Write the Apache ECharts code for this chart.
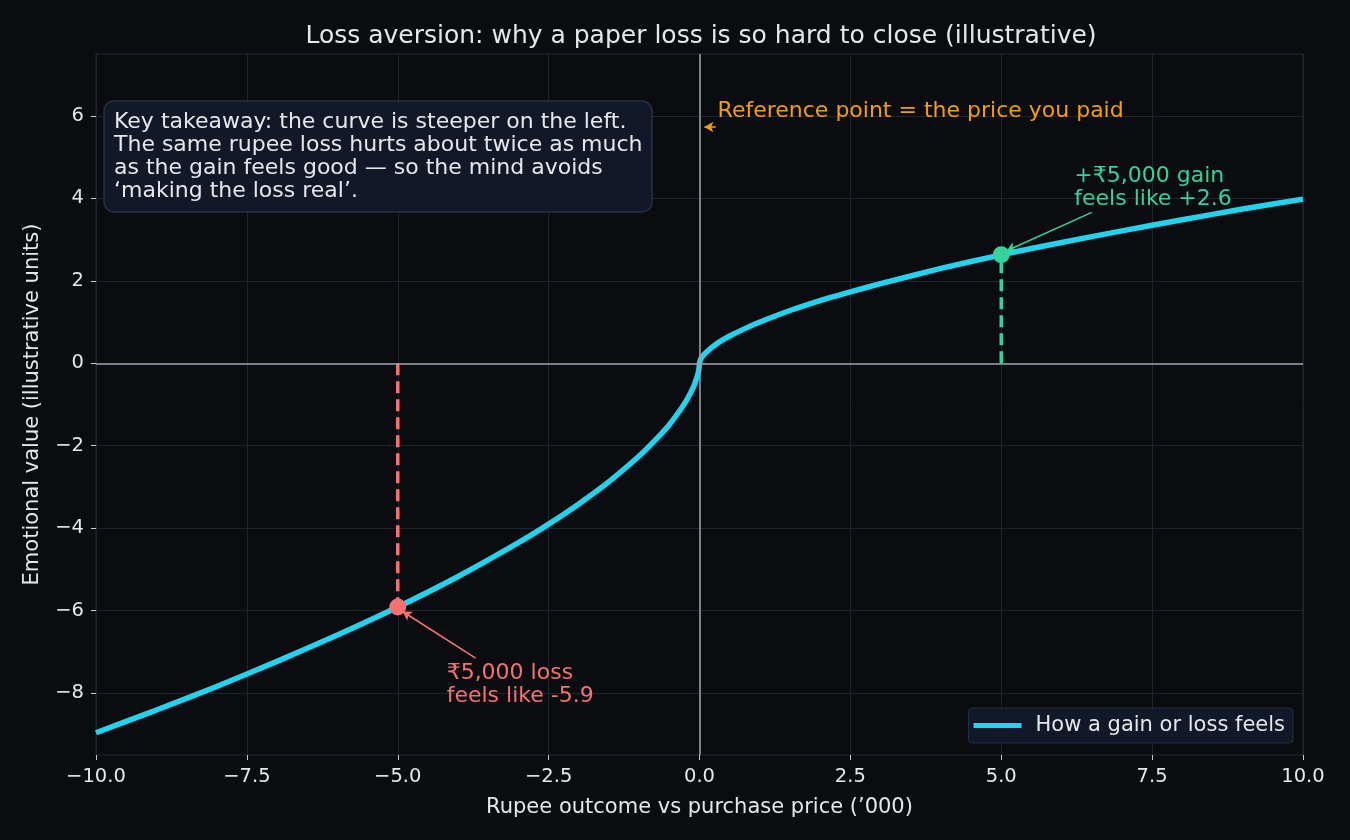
<!DOCTYPE html>
<html lang="en">
<head>
<meta charset="UTF-8">
<title>Loss aversion</title>
<style>
  html, body { margin: 0; padding: 0; background: #0b0c10; }
  #chart { width: 1350px; height: 840px; }
</style>
</head>
<body>
<div id="chart"></div>
<script src="https://cdn.jsdelivr.net/npm/echarts@6/dist/echarts.min.js"></script>
<script>
// outcome in rupees ('000) and how it feels
const outcome = [-10, -9, -8, -7, -6, -5, -4, -3, -2.5, -2, -1.5, -1, -0.75, -0.5, -0.3, -0.2, -0.1, -0.05, -0.02, -0.01, 0,
                 0.01, 0.02, 0.05, 0.1, 0.2, 0.3, 0.5, 0.75, 1, 1.5, 2, 2.5, 3, 4, 5, 6, 7, 8, 9, 10];
const feeling = [-8.96, -8.41, -7.84, -7.23, -6.59, -5.91, -5.17, -4.35, -3.90, -3.41, -2.87, -2.25, -1.89, -1.49, -1.09, -0.86, -0.57, -0.37, -0.22, -0.14, 0,
                 0.06, 0.10, 0.17, 0.25, 0.38, 0.49, 0.66, 0.84, 1.00, 1.28, 1.52, 1.73, 1.93, 2.30, 2.63, 2.93, 3.21, 3.48, 3.74, 3.98];

const lossPoint = [-5, -5.91];
const gainPoint = [5, 2.63];

const xTicks = [-10, -7.5, -5, -2.5, 0, 2.5, 5, 7.5, 10];
const yTicks = [-8, -6, -4, -2, 0, 2, 4, 6];

const FONT = 'DejaVu Sans';
const TEXT = '#e5e7eb';
const CYAN = '#22d3ee';
const GREEN = '#34d399';
const RED = '#f87171';
const ORANGE = '#f59e0b';

const minus = s => String(s).replace('-', '\u2212');

const chart = echarts.init(document.getElementById('chart'));

chart.setOption({
  backgroundColor: '#0b0c10',
  animation: false,
  textStyle: { fontFamily: FONT },
  title: {
    text: 'Loss aversion: why a paper loss is so hard to close (illustrative)',
    left: 696, textAlign: 'center', top: 19,
    textStyle: { color: TEXT, fontSize: 25, fontWeight: 'normal', fontFamily: FONT }
  },
  grid: { left: 96, right: 47, top: 54, bottom: 85, show: true, borderColor: '#232b36', borderWidth: 1, backgroundColor: '#0b0c10' },
  legend: {
    data: ['How a gain or loss feels'],
    right: 57, bottom: 97,
    icon: 'rect', itemWidth: 48, itemHeight: 5,
    padding: [7, 8, 7, 5],
    backgroundColor: '#111827', borderColor: '#263041', borderWidth: 1, borderRadius: 4,
    textStyle: { color: TEXT, fontSize: 21, fontFamily: FONT, padding: [0, 0, 0, 9] }
  },
  xAxis: {
    type: 'value', min: -10, max: 10, interval: 2.5,
    name: 'Rupee outcome vs purchase price (\u2019000)', nameLocation: 'middle', nameGap: 42,
    nameTextStyle: { color: TEXT, fontSize: 21, fontFamily: FONT },
    axisLine: { show: false, onZero: false },
    axisTick: { show: true, length: 5, lineStyle: { color: '#c9ccd1' } },
    axisLabel: { color: TEXT, fontSize: 19.5, margin: 12, formatter: v => minus(v.toFixed(1)) },
    splitLine: { show: true, lineStyle: { color: '#1d252f', width: 1 } }
  },
  yAxis: {
    type: 'value', min: -9.5, max: 7.5,
    name: 'Emotional value (illustrative units)', nameLocation: 'middle', nameGap: 53,
    nameTextStyle: { color: TEXT, fontSize: 21, fontFamily: FONT },
    axisLine: { show: false, onZero: false },
    axisTick: { show: true, length: 5, customValues: yTicks, lineStyle: { color: '#c9ccd1' } },
    axisLabel: { color: TEXT, fontSize: 19.5, margin: 12, customValues: yTicks, formatter: v => minus(v) },
    splitLine: { show: true, lineStyle: { color: '#1d252f', width: 1 } }
  },
  series: [
    {
      name: 'zero lines', type: 'line', data: [], silent: true,
      markLine: {
        silent: true, symbol: 'none', label: { show: false },
        lineStyle: { color: '#9ca3af', width: 1.5, type: 'solid' },
        data: [{ xAxis: 0 }, { yAxis: 0 }]
      }
    },
    {
      name: 'loss drop', type: 'line', silent: true, symbol: 'none',
      data: [[lossPoint[0], 0], lossPoint],
      lineStyle: { color: RED, width: 3.5, type: [12, 6] }
    },
    {
      name: 'gain drop', type: 'line', silent: true, symbol: 'none',
      data: [[gainPoint[0], 0], gainPoint],
      lineStyle: { color: GREEN, width: 3.5, type: [12, 6] }
    },
    {
      name: 'How a gain or loss feels', type: 'line', smooth: 0.2, symbol: 'none',
      data: outcome.map((x, i) => [x, feeling[i]]),
      lineStyle: { color: CYAN, width: 5.5 }, itemStyle: { color: CYAN }, z: 3
    },
    {
      name: 'points', type: 'scatter', symbolSize: 17, z: 4, silent: true,
      data: [
        { value: lossPoint, itemStyle: { color: RED, opacity: 1 } },
        { value: gainPoint, itemStyle: { color: GREEN, opacity: 1 } }
      ],
      markLine: {
        silent: true, symbol: ['none', 'arrow'], symbolSize: [8, 9], label: { show: false },
        data: [
          [{ coord: [6.5, 3.66], lineStyle: { color: GREEN, width: 1.5, type: 'solid' } }, { coord: [5.09, 2.73] }],
          [{ coord: [-3.71, -7.15], lineStyle: { color: RED, width: 1.5, type: 'solid' } }, { coord: [-4.92, -6.02] }],
          [{ coord: [0.27, 5.73], lineStyle: { color: ORANGE, width: 1.5, type: 'solid' } }, { coord: [0.08, 5.73] }]
        ]
      }
    }
  ]
});

// annotation texts anchored in data coordinates (top-left of each text)
const notes = [
  { at: [0.3, 6.40], text: 'Reference point = the price you paid', color: ORANGE },
  { at: [6.21, 4.82], text: '+\u20b95,000 gain\nfeels like +2.6', color: GREEN },
  { at: [-4.19, -7.24], text: '\u20b95,000 loss\nfeels like -5.9', color: RED }
];

const graphics = notes.map(n => {
  const p = chart.convertToPixel({ gridIndex: 0 }, n.at);
  return {
    type: 'text', x: p[0], y: p[1], z: 10, silent: true,
    style: { text: n.text, fill: n.color, font: '22px "DejaVu Sans"', lineHeight: 23, align: 'left', verticalAlign: 'top' }
  };
});

graphics.push({
  type: 'group', x: 104, y: 101, z: 10, silent: true,
  children: [
    { type: 'rect', shape: { x: 0, y: 0, width: 548, height: 111, r: 10 },
      style: { fill: '#111827', stroke: '#263041', lineWidth: 1.5 } },
    { type: 'text', x: 10, y: 10,
      style: {
        text: 'Key takeaway: the curve is steeper on the left.\nThe same rupee loss hurts about twice as much\nas the gain feels good \u2014 so the mind avoids\n\u2018making the loss real\u2019.',
        fill: TEXT, font: '22px "DejaVu Sans"', lineHeight: 23, align: 'left', verticalAlign: 'top'
      } }
  ]
});

chart.setOption({ graphic: graphics });
</script>
</body>
</html>
